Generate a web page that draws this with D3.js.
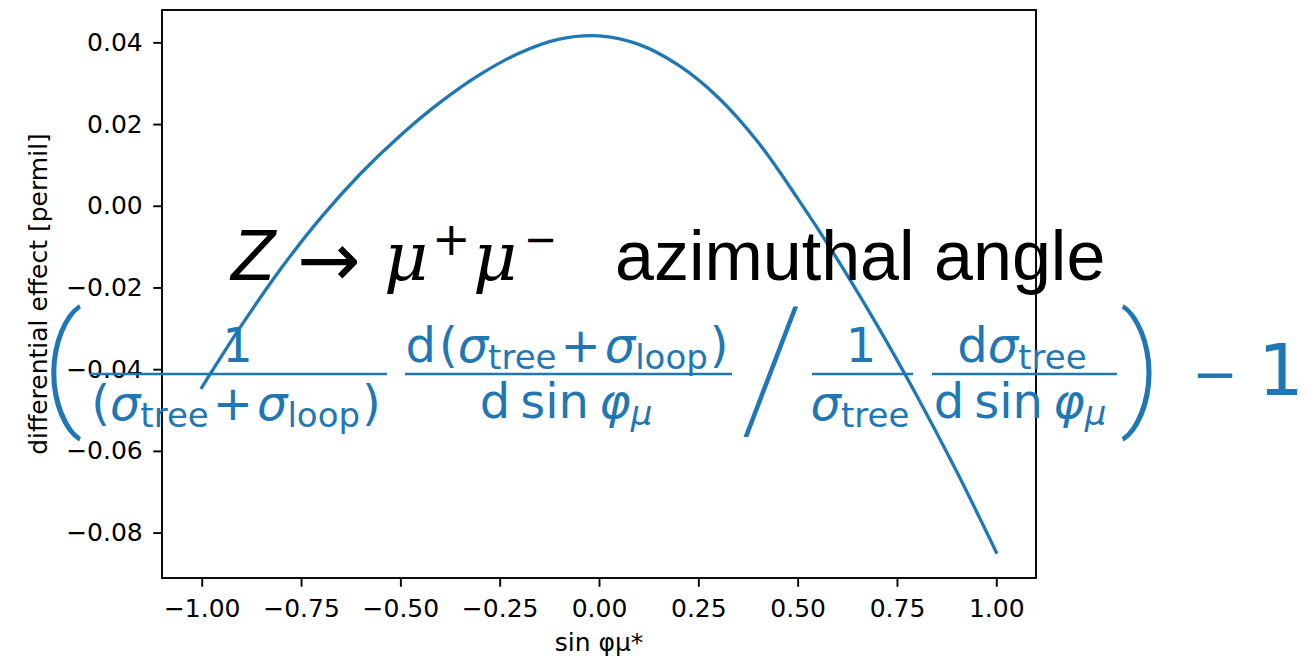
<!DOCTYPE html>
<html>
<head>
<meta charset="utf-8">
<script src="https://cdn.jsdelivr.net/npm/d3@7"></script>
<style>
  body { margin: 0; background: #fff; }
  svg { display: block; }
</style>
</head>
<body>
<svg id="chart" width="1315" height="660"></svg>
<script>
// sin(phi_mu*) sample points and the relative loop effect at each of them
const sinPhi = [-1.0, -0.9, -0.8, -0.7, -0.6, -0.5, -0.4, -0.3, -0.2, -0.1, 0.0,
                 0.1, 0.2, 0.3, 0.4, 0.5, 0.6, 0.7, 0.8, 0.9, 1.0];
const effect = [-0.0445, -0.0293, -0.0153, -0.0029, 0.0079, 0.0172, 0.0253, 0.0321, 0.0374, 0.0408, 0.0416,
                 0.0395, 0.0344, 0.0265, 0.0156, 0.0018, -0.0131, -0.0292, -0.0465, -0.0650, -0.0848];

const xTicks = [-1.0, -0.75, -0.5, -0.25, 0.0, 0.25, 0.5, 0.75, 1.0];
const yTicks = [-0.08, -0.06, -0.04, -0.02, 0.0, 0.02, 0.04];
const xLabel = "sin φμ*";
const yLabel = "differential effect [permil]";

const BLUE = "#1f77b4";
const svg = d3.select("#chart");
const plot = { left: 162, right: 1036, top: 10, bottom: 578 };

// data limits padded by 5% on each side
function padded(ext) {
  const r = ext[1] - ext[0];
  return [ext[0] - 0.05 * r, ext[1] + 0.05 * r];
}
const x = d3.scaleLinear().domain(padded(d3.extent(sinPhi))).range([plot.left, plot.right]);
const y = d3.scaleLinear().domain(padded(d3.extent(effect))).range([plot.bottom, plot.top]);

const fmt = d3.format(".2f");

// axes
const xAxis = svg.append("g")
  .attr("transform", `translate(0,${plot.bottom})`)
  .call(d3.axisBottom(x).tickValues(xTicks).tickFormat(fmt)
        .tickSize(8.75).tickPadding(12.5).tickSizeOuter(0));
const yAxis = svg.append("g")
  .attr("transform", `translate(${plot.left},0)`)
  .call(d3.axisLeft(y).tickValues(yTicks).tickFormat(fmt)
        .tickSize(8.75).tickPadding(10.5).tickSizeOuter(0));
[xAxis, yAxis].forEach(g => {
  g.select(".domain").remove();
  g.attr("font-family", "DejaVu Sans").attr("font-size", 25);
  g.selectAll(".tick line").attr("stroke", "#000").attr("stroke-width", 1.9);
  g.selectAll(".tick text").attr("fill", "#000");
});

// frame
svg.append("rect")
  .attr("x", plot.left).attr("y", plot.top)
  .attr("width", plot.right - plot.left).attr("height", plot.bottom - plot.top)
  .attr("fill", "none").attr("stroke", "#000").attr("stroke-width", 1.9);

// curve
const pts = sinPhi.map((s, i) => [s, effect[i]]);
svg.append("path")
  .datum(pts)
  .attr("fill", "none")
  .attr("stroke", BLUE)
  .attr("stroke-width", 3.3)
  .attr("stroke-linecap", "square")
  .attr("d", d3.line().x(d => x(d[0])).y(d => y(d[1])).curve(d3.curveCatmullRom));

// axis labels
svg.append("text")
  .attr("x", (plot.left + plot.right) / 2).attr("y", 651)
  .attr("text-anchor", "middle")
  .attr("font-family", "DejaVu Sans").attr("font-size", 25)
  .text(xLabel);
svg.append("text")
  .attr("transform", `translate(47,${(plot.top + plot.bottom) / 2}) rotate(-90)`)
  .attr("text-anchor", "middle")
  .attr("font-family", "DejaVu Sans").attr("font-size", 25)
  .text(yLabel);

// ---- title:  Z -> mu+ mu-  azimuthal angle ----
const title = svg.append("g").attr("fill", "#000");
function put(g, t, px, py, size, family, style, anchor) {
  return g.append("text")
    .attr("x", px).attr("y", py)
    .attr("font-size", size)
    .attr("font-family", family)
    .attr("font-style", style || "normal")
    .attr("text-anchor", anchor || "start")
    .text(t);
}
put(title, "Z", 231, 280, 72, "Liberation Sans", "italic");
put(title, "→", 297, 286, 76, "DejaVu Sans");
put(title, "μ", 384, 280, 68, "DejaVu Serif", "italic");
put(title, "+", 432, 255, 46, "DejaVu Sans");
put(title, "μ", 473, 280, 68, "DejaVu Serif", "italic");
put(title, "−", 524, 253, 40, "DejaVu Sans");
put(title, "azimuthal angle", 615, 280, 70, "Liberation Sans");

// ---- formula in blue ----
const formula = svg.append("g").attr("fill", BLUE);
const MAIN = 48, SUB = 34, SUBSHIFT = 7;

// pieces: [text, {i: italic, sub: subscript, dx}]
function mathText(g, cx, baseline, pieces) {
  const t = g.append("text")
    .attr("x", cx).attr("y", baseline)
    .attr("text-anchor", "middle")
    .attr("font-family", "DejaVu Sans");
  let shift = 0;
  pieces.forEach(([s, o]) => {
    o = o || {};
    const want = o.sub ? SUBSHIFT : 0;
    t.append("tspan")
      .attr("dy", want - shift)
      .attr("dx", o.dx || 0)
      .attr("font-size", o.sub ? SUB : MAIN)
      .attr("font-style", o.i ? "italic" : "normal")
      .text(s);
    shift = want;
  });
  return t;
}

const sigTree = [["σ", { i: true }], ["tree", { sub: true }]];
const sumDen = [["("], ...sigTree, ["+", { dx: 4 }], ["σ", { i: true, dx: 4 }], ["loop", { sub: true }], [")", { dx: 2 }]];
const dSin = [["d"], ["sin", { dx: 10 }], ["φ", { i: true, dx: 10 }], ["μ", { i: true, sub: true }]];

// fraction bars
const bars = [[90, 387], [405, 732], [812, 913], [932, 1117]];
formula.selectAll("line.bar").data(bars).enter().append("line")
  .attr("class", "bar")
  .attr("x1", d => d[0]).attr("x2", d => d[1])
  .attr("y1", 374).attr("y2", 374)
  .attr("stroke", BLUE).attr("stroke-width", 2.6);

mathText(formula, 237.5, 362, [["1"]]);
mathText(formula, 236, 420, sumDen);
mathText(formula, 567, 362, [["d"], ["(", { dx: 3 }], ...sigTree, ["+", { dx: 4 }], ["σ", { i: true, dx: 4 }], ["loop", { sub: true }], [")", { dx: 2 }]]);
mathText(formula, 566, 418, dSin);
mathText(formula, 861, 362, [["1"]]);
mathText(formula, 860, 420, sigTree);
mathText(formula, 1022, 362, [["d"], ...sigTree]);
mathText(formula, 1020, 418, dSin);

// large delimiters
put(formula, "(", 62, 410, 132, "Roboto").attr("text-anchor", "middle").attr("font-weight", 100)
  .attr("stroke", BLUE).attr("stroke-width", 1.6);
put(formula, ")", 1141, 410, 132, "Roboto").attr("text-anchor", "middle").attr("font-weight", 100)
  .attr("stroke", BLUE).attr("stroke-width", 1.6);
put(formula, "/", 772, 427, 168, "Roboto").attr("text-anchor", "middle").attr("font-weight", 100);
put(formula, "−", 1215, 393, 55, "DejaVu Sans").attr("text-anchor", "middle");
put(formula, "1", 1281, 395, 72, "DejaVu Sans").attr("text-anchor", "middle");
</script>
</body>
</html>
